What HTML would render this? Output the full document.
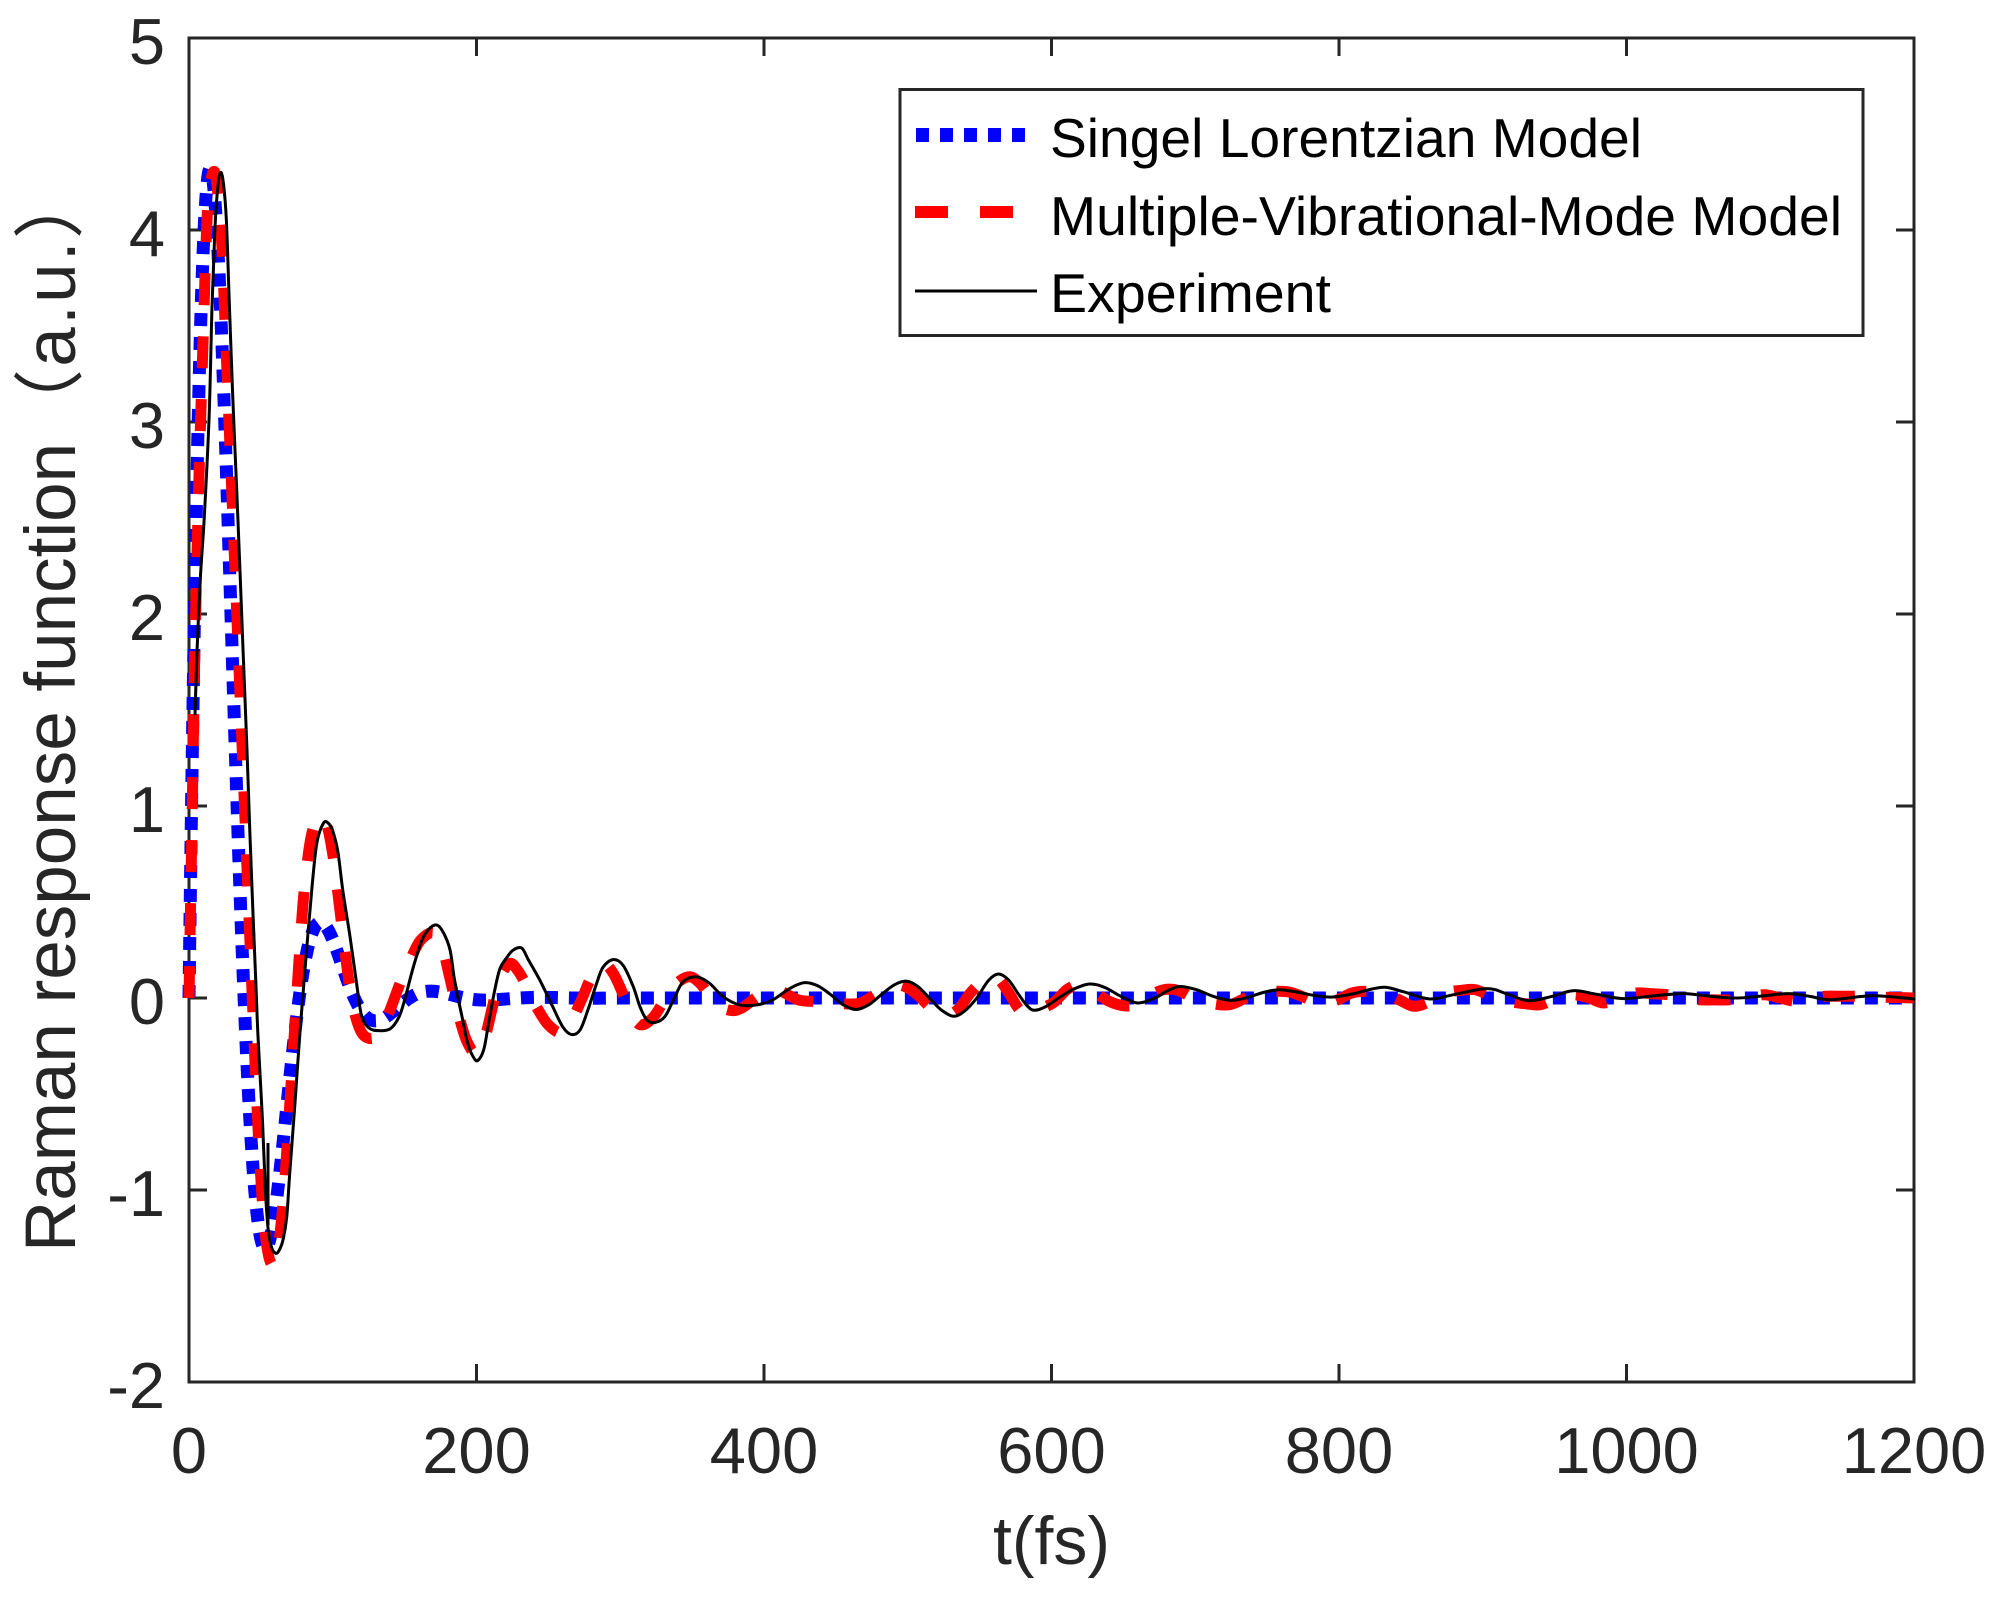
<!DOCTYPE html>
<html>
<head>
<meta charset="utf-8">
<style>
  html,body{margin:0;padding:0;background:#fff;}
  svg{display:block;}
  text{font-family:"Liberation Sans","Noto Sans CJK SC",sans-serif;}
</style>
</head>
<body>
<svg id="chart" width="1994" height="1600" viewBox="0 0 1994 1600" xmlns="http://www.w3.org/2000/svg">
  <rect x="0" y="0" width="1994" height="1600" fill="#ffffff"/>

  <!-- axes box -->
  <rect x="189" y="38" width="1725" height="1344" fill="none" stroke="#262626" stroke-width="3"/>

  <!-- ticks -->
  <g stroke="#262626" stroke-width="3">
    <line x1="476.5" y1="1382" x2="476.5" y2="1364"/>
    <line x1="764" y1="1382" x2="764" y2="1364"/>
    <line x1="1051.5" y1="1382" x2="1051.5" y2="1364"/>
    <line x1="1339" y1="1382" x2="1339" y2="1364"/>
    <line x1="1626.5" y1="1382" x2="1626.5" y2="1364"/>
    <line x1="476.5" y1="38" x2="476.5" y2="56"/>
    <line x1="764" y1="38" x2="764" y2="56"/>
    <line x1="1051.5" y1="38" x2="1051.5" y2="56"/>
    <line x1="1339" y1="38" x2="1339" y2="56"/>
    <line x1="1626.5" y1="38" x2="1626.5" y2="56"/>
    <line x1="189" y1="230" x2="207" y2="230"/>
    <line x1="189" y1="422" x2="207" y2="422"/>
    <line x1="189" y1="614" x2="207" y2="614"/>
    <line x1="189" y1="806" x2="207" y2="806"/>
    <line x1="189" y1="998" x2="207" y2="998"/>
    <line x1="189" y1="1190" x2="207" y2="1190"/>
    <line x1="1914" y1="230" x2="1896" y2="230"/>
    <line x1="1914" y1="422" x2="1896" y2="422"/>
    <line x1="1914" y1="614" x2="1896" y2="614"/>
    <line x1="1914" y1="806" x2="1896" y2="806"/>
    <line x1="1914" y1="998" x2="1896" y2="998"/>
    <line x1="1914" y1="1190" x2="1896" y2="1190"/>
  </g>

  <!-- y tick labels -->
  <g fill="#262626" font-size="65" text-anchor="end">
    <text x="165" y="64">5</text>
    <text x="165" y="256">4</text>
    <text x="165" y="448">3</text>
    <text x="165" y="640">2</text>
    <text x="165" y="832">1</text>
    <text x="165" y="1024">0</text>
    <text x="165" y="1216">-1</text>
    <text x="165" y="1408">-2</text>
  </g>

  <!-- x tick labels -->
  <g fill="#262626" font-size="65" text-anchor="middle">
    <text x="189" y="1473">0</text>
    <text x="476.5" y="1473">200</text>
    <text x="764" y="1473">400</text>
    <text x="1051.5" y="1473">600</text>
    <text x="1339" y="1473">800</text>
    <text x="1626.5" y="1473">1000</text>
    <text x="1914" y="1473">1200</text>
  </g>

  <!-- axis labels -->
  <text x="1051.5" y="1564" font-size="68" fill="#262626" text-anchor="middle">t(fs)</text>
  <text transform="translate(75,1252) rotate(-90)" font-size="71" fill="#262626" text-anchor="start">Raman response function</text>
  <text transform="translate(75,440) rotate(-90)" font-size="71" fill="#262626" text-anchor="start" textLength="272" lengthAdjust="spacing">（a.u.）</text>

  <!-- series -->
  <path id="blue" d="" fill="none" stroke="#0000ff" stroke-width="13" stroke-dasharray="13 11" stroke-linecap="butt" stroke-linejoin="miter"/>
  <path id="red" d="" fill="none" stroke="#ff0000" stroke-width="11" stroke-dasharray="32 31" stroke-linecap="butt" stroke-linejoin="round"/>
  <path id="black" d="" fill="none" stroke="#000000" stroke-width="3" stroke-linecap="round" stroke-linejoin="round"/>
  <path d="M268,1143 L268,1225" fill="none" stroke="#000000" stroke-width="3"/>

  <!-- legend -->
  <rect x="900" y="89.5" width="963" height="246" fill="#ffffff" stroke="#262626" stroke-width="3"/>
  <line x1="916" y1="135" x2="1027" y2="135" stroke="#0000ff" stroke-width="14" stroke-dasharray="13 11"/>
  <line x1="915" y1="212" x2="1013" y2="212" stroke="#ff0000" stroke-width="12" stroke-dasharray="33 32"/>
  <line x1="915" y1="291" x2="1037" y2="291" stroke="#000000" stroke-width="3"/>
  <g font-size="55" fill="#000000">
    <text x="1050" y="157" textLength="592" lengthAdjust="spacingAndGlyphs">Singel Lorentzian Model</text>
    <text x="1050" y="235" textLength="792" lengthAdjust="spacingAndGlyphs">Multiple-Vibrational-Mode Model</text>
    <text x="1050" y="312" textLength="281" lengthAdjust="spacingAndGlyphs">Experiment</text>
  </g>
</svg>

<script>
(function(){
  var X=function(t){return 189+1.4375*t;};
  var Y=function(v){return 998-192*v;};
  function f(n){return n.toFixed(2);}
  function cr(pts){
    var p=pts.map(function(a){return [X(a[0]),Y(a[1])];});
    var d='M'+f(p[0][0])+','+f(p[0][1]);
    for(var i=0;i<p.length-1;i++){
      var p0=p[i-1]||p[i], p1=p[i], p2=p[i+1], p3=p[i+2]||p[i+1];
      var c1=[p1[0]+(p2[0]-p0[0])/6, p1[1]+(p2[1]-p0[1])/6];
      var c2=[p2[0]-(p3[0]-p1[0])/6, p2[1]-(p3[1]-p1[1])/6];
      d+='C'+f(c1[0])+','+f(c1[1])+' '+f(c2[0])+','+f(c2[1])+' '+f(p2[0])+','+f(p2[1]);
    }
    return d;
  }

  var bd='';
  var t=0, first=true;
  while(t<=1200){
    var v=7.324*Math.exp(-t/32)*Math.sin(t/12.2);
    bd+=(first?'M':'L')+f(X(t))+','+f(Y(v));
    first=false;
    t+= (t<150?0.25:2);
  }
  document.getElementById('blue').setAttribute('d',bd);

  var red=[[0,0],[1,0.45],[2.5,1.1],[4.2,1.86],[7,2.73],[9.7,3.4],[12.5,4.05],[15,4.25],[18,4.3],[20.5,4.15],[23,3.9],[25,3.53],[28,2.97],[31,2.41],[34,1.86],[37,1.3],[40,0.74],[43,0.19],[46,-0.35],[49,-0.82],[52,-1.15],[55,-1.33],[58.5,-1.39],[62,-1.3],[65,-1.1],[68,-0.8],[71,-0.45],[74,-0.1],[77,0.25],[80,0.55],[84,0.8],[88,0.92],[92,0.95],[96,0.9],[100,0.75],[104,0.52],[108,0.27],[112,0.05],[116,-0.1],[121,-0.19],[128,-0.21],[134,-0.16],[140,-0.06],[147,0.08],[154,0.2],[161,0.3],[170,0.34],[176,0.27],[181,0.12],[187,-0.07],[193,-0.22],[200,-0.29],[206,-0.2],[211,-0.05],[216,0.1],[223,0.18],[229,0.14],[235,0.06],[242,-0.05],[250,-0.14],[259,-0.18],[266,-0.12],[273,-0.01],[280,0.11],[288,0.18],[295,0.13],[302,0.02],[309,-0.1],[315,-0.14],[323,-0.1],[330,-0.02],[337,0.06],[347,0.11],[355,0.08],[367,-0.03],[377,-0.065],[385,-0.05],[394,0.0],[403,0.045],[412,0.035],[424,-0.01],[440,-0.02],[455,-0.03],[467,-0.026],[478,0.02],[490,0.065],[498,0.06],[507,0.015],[516,-0.05],[526,-0.09],[535,-0.06],[544,0.03],[553,0.09],[562,0.105],[570,0.03],[579,-0.07],[588,-0.065],[601,-0.026],[611,0.045],[620,0.07],[630,0.03],[640,-0.017],[650,-0.04],[659,-0.035],[668,0.01],[678,0.043],[688,0.04],[701,-0.01],[712,-0.03],[724,-0.035],[735,0.0],[745,0.03],[756,0.035],[766,0.03],[777,0.0],[788,-0.035],[799,-0.01],[809,0.026],[820,0.035],[831,0.026],[842,-0.01],[852,-0.043],[863,-0.02],[874,0.026],[885,0.04],[895,0.043],[906,0.01],[918,-0.017],[930,-0.03],[940,-0.035],[952,0.0],[963,0.017],[974,0.0],[984,-0.026],[995,0.0],[1007,0.026],[1018,0.022],[1029,0.017],[1040,0.0],[1051,-0.009],[1062,-0.01],[1073,-0.009],[1085,0.005],[1096,0.017],[1107,0.0],[1118,-0.017],[1130,0.0],[1139,0.009],[1151,0.009],[1163,0.009],[1175,0.005],[1200,0.0]];
  document.getElementById('red').setAttribute('d',cr(red));

  var blk=[[4.2,1.48],[5.6,1.81],[8,2.2],[10.6,2.5],[14,3.03],[16,3.6],[18,4.0],[20,4.22],[22,4.3],[24,4.24],[26,4.05],[28,3.63],[30.5,3.12],[33,2.68],[35.5,2.22],[37.6,1.81],[40.3,1.3],[42.4,0.85],[44.5,0.44],[46.5,0.08],[48,-0.2],[51,-0.62],[53,-0.98],[55,-1.2],[57.5,-1.3],[60.5,-1.33],[63,-1.31],[65.4,-1.26],[68,-1.14],[70,-0.92],[73.7,-0.55],[77,-0.2],[80.7,0.15],[85.6,0.58],[89,0.81],[93.5,0.91],[97,0.91],[100,0.87],[103.6,0.76],[107,0.56],[112,0.32],[116.5,0.08],[120,-0.09],[125,-0.155],[132,-0.17],[140,-0.16],[146,-0.1],[150,-0.01],[156,0.16],[162,0.3],[167,0.36],[172.5,0.38],[177,0.34],[181.6,0.25],[185,0.08],[190,-0.1],[194,-0.24],[198,-0.31],[201,-0.325],[205,-0.27],[208,-0.15],[211.6,0.0],[216,0.146],[221,0.21],[225.6,0.25],[231.5,0.26],[236,0.2],[244,0.094],[253,-0.045],[260,-0.15],[266,-0.19],[272,-0.167],[277.6,-0.06],[283.6,0.077],[288,0.16],[295,0.2],[302,0.17],[309,0.06],[313.7,-0.045],[318.6,-0.115],[324,-0.128],[331,-0.097],[337,-0.01],[343.7,0.085],[353,0.11],[362,0.077],[371.6,0.007],[383,-0.036],[395,-0.036],[406,-0.01],[418,0.05],[428,0.08],[437,0.065],[446,0.02],[455,-0.035],[464,-0.06],[473,-0.035],[482,0.02],[491,0.07],[499,0.088],[507,0.06],[515,0.0],[523,-0.06],[532,-0.095],[540,-0.065],[548,0.0],[556,0.09],[563,0.125],[570,0.095],[577,0.02],[583,-0.04],[588,-0.064],[596,-0.045],[605,0.0],[615,0.045],[626.5,0.073],[637,0.055],[648,0.01],[660,-0.026],[672,0.0],[680,0.035],[689,0.06],[700,0.045],[712,0.01],[724,-0.012],[735,0.0],[747,0.028],[758,0.043],[770,0.032],[783,0.013],[795.5,0.005],[810,0.022],[820,0.042],[832,0.056],[845,0.032],[863,-0.005],[880,0.018],[903,0.049],[918,0.018],[932,-0.014],[948,0.008],[963,0.038],[980,0.018],[998,-0.003],[1020,0.012],[1040,0.023],[1060,0.008],[1077,0.0],[1095,0.011],[1113,0.023],[1128,0.008],[1142,-0.009],[1171,0.012],[1200,-0.005]];
  document.getElementById('black').setAttribute('d',cr(blk));
})();
</script>
</body>
</html>
